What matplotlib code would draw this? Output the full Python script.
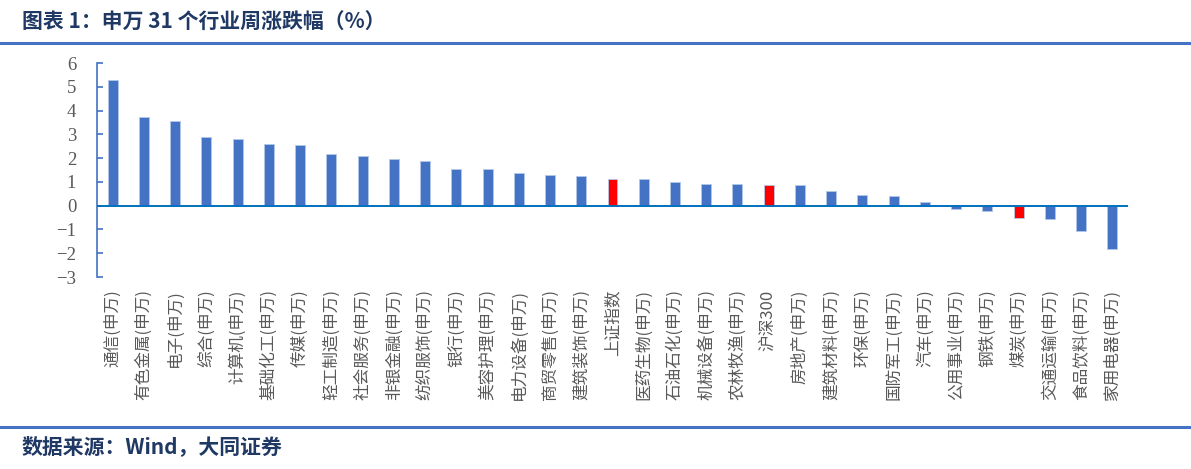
import matplotlib
matplotlib.use("Agg")
import matplotlib.pyplot as plt
from matplotlib.lines import Line2D

plt.rcParams['font.family'] = ['Noto Sans CJK SC', 'DejaVu Sans']

industries = ["通信(申万)", "有色金属(申万)", "电子(申万)", "综合(申万)", "计算机(申万)",
              "基础化工(申万)", "传媒(申万)", "轻工制造(申万)", "社会服务(申万)", "非银金融(申万)",
              "纺织服饰(申万)", "银行(申万)", "美容护理(申万)", "电力设备(申万)", "商贸零售(申万)",
              "建筑装饰(申万)", "上证指数", "医药生物(申万)", "石油石化(申万)", "机械设备(申万)",
              "农林牧渔(申万)", "沪深300", "房地产(申万)", "建筑材料(申万)", "环保(申万)",
              "国防军工(申万)", "汽车(申万)", "公用事业(申万)", "钢铁(申万)", "煤炭(申万)",
              "交通运输(申万)", "食品饮料(申万)", "家用电器(申万)"]
changes = [5.27, 3.72, 3.58, 2.88, 2.80, 2.59, 2.57, 2.17, 2.08, 1.98,
           1.88, 1.53, 1.53, 1.36, 1.28, 1.24, 1.11, 1.11, 1.00, 0.91,
           0.90, 0.86, 0.86, 0.62, 0.45, 0.39, 0.16, -0.14, -0.24, -0.52,
           -0.57, -1.07, -1.82]
highlight = ["上证指数", "沪深300", "煤炭(申万)"]

blue = "#4472C4"
red = "#FF0000"
colors = [red if n in highlight else blue for n in industries]

fig = plt.figure(figsize=(11.91, 4.69), dpi=100)
ax = fig.add_axes([97 / 1191, 1 - 277 / 469, (1128 - 97) / 1191, (277 - 63) / 469])

x = list(range(len(industries)))
ax.bar(x, changes, width=0.32, color=colors, edgecolor="#B4C7E7", linewidth=0.6, zorder=2)
ax.axhline(0, color="#0070C0", linewidth=1.4, zorder=3)

ax.set_xlim(-0.5, len(industries) - 0.5)
ax.set_ylim(-3, 6)
ax.set_yticks(range(-3, 7))
ax.set_yticklabels([str(v).replace("-", "\u2212") for v in range(-3, 7)],
                   fontfamily="Liberation Serif", fontsize=13.5, color="#595959")
ax.set_xticks(x)
ax.set_xticklabels(industries, rotation=90, fontsize=12, color="#595959",
                   ha="center", va="top")

for s in ["top", "right", "bottom"]:
    ax.spines[s].set_visible(False)
ax.spines["left"].set_color(blue)
ax.spines["left"].set_linewidth(1.2)
ax.tick_params(axis="y", direction="in", length=4, width=1.2, color=blue, pad=15)
ax.tick_params(axis="x", length=0, pad=9)

# header / footer
fig.text(22 / 1191, 1 - 22 / 469, "图表 1：申万 31 个行业周涨跌幅（%）", fontsize=15,
         color="#1F3864", fontweight="bold", ha="left", va="center")
fig.add_artist(Line2D([0, 1], [1 - 43 / 469] * 2, transform=fig.transFigure,
                      color=blue, linewidth=2.2))
fig.add_artist(Line2D([0, 1], [1 - 427 / 469] * 2, transform=fig.transFigure,
                      color=blue, linewidth=2.2))
fig.text(22 / 1191, 1 - 447 / 469, "数据来源：Wind，大同证券", fontsize=15,
         color="#1F3864", fontweight="bold", ha="left", va="center")

fig.savefig("out.png", dpi=100)
